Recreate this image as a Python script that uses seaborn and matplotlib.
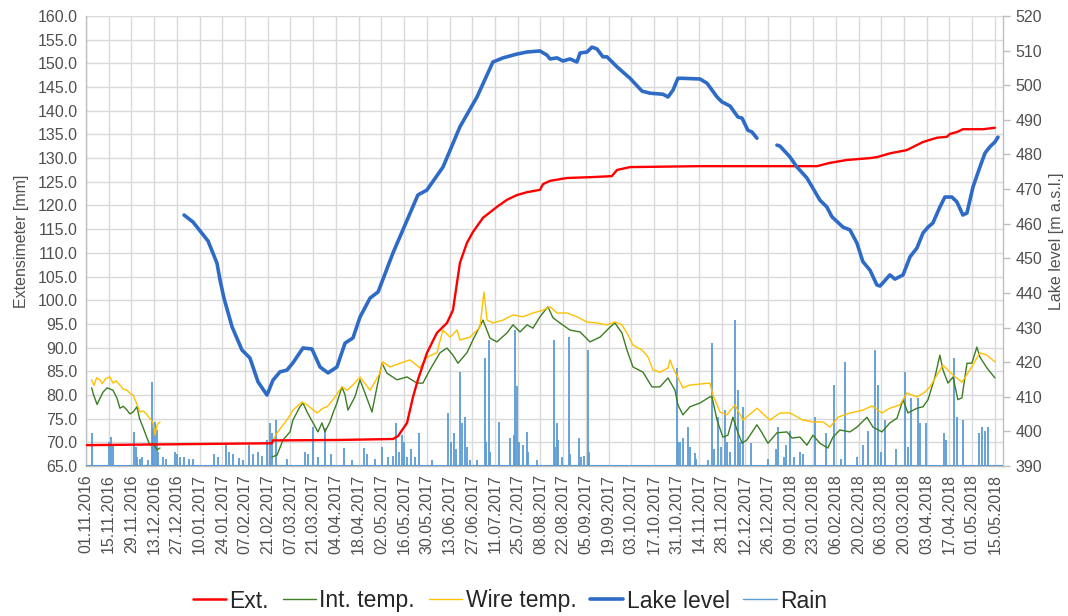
import numpy as np
import pandas as pd
import matplotlib
matplotlib.use("Agg")
import matplotlib.pyplot as plt
import matplotlib.dates as mdates
import matplotlib.ticker as mticker
from matplotlib.lines import Line2D
import seaborn as sns

# ---------------- data (days since 01.11.2016) ----------------
START = "2016-11-01"

ext_days = [0, 114.6, 115.2, 156.5, 189.1, 192.2, 197.8, 201.5, 204.5, 210.1, 216.2, 222.4,
            226.1, 227.3, 230.4, 234.7, 238.4, 244.6, 253.2, 259.4, 265.5, 271.7, 279.7,
            281.6, 285.9, 296.3, 312.4, 324.0, 327.2, 335.2, 378.3, 450.4, 458.4, 468.8,
            483.0, 487.3, 495.3, 505.8, 515.7, 524.3, 530.5, 532.3, 536.6, 540.3, 552.6, 560.0]
ext_vals = [69.4, 69.8, 70.4, 70.5, 70.7, 71.3, 74.1, 79.6, 83.2, 88.9, 93.1, 95.2,
            97.9, 100.7, 107.9, 112.1, 114.4, 117.4, 119.7, 121.2, 122.2, 122.8, 123.3,
            124.5, 125.2, 125.8, 126.0, 126.2, 127.5, 128.1, 128.3, 128.3, 129.0, 129.6,
            130.0, 130.2, 131.0, 131.7, 133.4, 134.3, 134.5, 135.1, 135.5, 136.1, 136.1, 136.4]

int_days_1 = [3.5, 4.5, 6.8, 8.5, 10.5, 13.0, 16.6, 19.0, 20.9, 23.0, 25.3, 27.0, 29.0,
              31.4, 33.0, 35.1, 37.6, 39.4, 41.3, 43.8, 45.6]
int_vals_1 = [81.5, 80.2, 78.0, 79.2, 80.6, 81.5, 81.0, 79.4, 77.2, 77.6, 76.8, 76.0, 76.4,
              77.5, 75.0, 73.2, 70.9, 69.4, 69.8, 68.4, 68.8]

int_days_2 = [114.6, 117.7, 121.4, 125.7, 127.5, 131.8, 133.7, 136.2, 139.9, 142.9, 145.4,
              147.2, 150.3, 152.2, 154.6, 157.7, 159.6, 161.4, 165.7, 168.8, 171.9, 176.2,
              179.3, 182.4, 185.4, 191.6, 197.8, 203.9, 207.6, 211.9, 218.1, 222.4, 226.1,
              229.2, 234.7, 238.4, 244.6, 248.9, 253.2, 259.4, 263.1, 267.4, 271.7, 275.4,
              279.7, 284.6, 287.7, 292.0, 298.2, 304.4, 310.5, 316.7, 322.8, 325.9, 330.2,
              333.3, 337.0, 343.2, 348.7, 353.6, 358.6, 362.9, 364.7, 367.8, 372.1, 378.3,
              384.4, 385.7, 388.8, 392.4, 395.5, 398.6, 401.1, 404.2, 407.2, 413.4, 416.5,
              420.2, 425.7, 431.9, 435.0, 439.9, 444.2, 447.9, 452.2, 457.1, 460.2, 464.5,
              470.7, 475.0, 481.2, 484.9, 490.4, 495.3, 499.7, 503.4, 506.4, 512.0, 515.7,
              518.8, 523.1, 526.1, 528.0, 531.1, 534.2, 537.2, 539.7, 542.8, 545.8, 548.9,
              550.8, 555.1, 560.0]
int_vals_2 = [66.9, 67.3, 70.5, 72.2, 74.7, 77.5, 78.3, 76.4, 74.1, 72.2, 74.1,
              72.2, 74.3, 76.2, 78.3, 81.7, 80.0, 76.8, 79.6, 83.2, 80.4, 76.4,
              81.7, 86.7, 84.6, 83.2, 83.8, 82.5, 82.5, 85.3, 88.9, 89.9, 88.4,
              86.7, 88.9, 91.6, 95.8, 92.0, 91.2, 93.1, 94.8, 93.3, 94.8, 94.1,
              96.5, 98.6, 96.3, 95.2, 93.7, 93.3, 91.2, 92.2, 94.3, 95.2, 93.1,
              89.5, 85.9, 84.8, 81.7, 81.7, 83.6, 81.0, 77.9, 75.8, 77.5, 78.3,
              79.6, 79.6, 74.7, 71.1, 71.5, 75.3, 72.6, 69.8, 70.5, 73.7, 72.0,
              69.8, 72.0, 72.2, 70.9, 71.1, 69.4, 71.5, 69.8, 68.8, 71.1, 72.6,
              72.2, 73.2, 75.3, 73.2, 72.2, 74.1, 75.1, 79.0, 76.2, 77.2, 77.5,
              79.0, 83.8, 88.4, 85.3, 82.5, 83.8, 79.0, 79.4, 86.7, 86.7, 90.1,
              88.0, 85.7, 83.6]

wire_days_1 = [3.5, 5.0, 6.5, 8.6, 10.0, 12.0, 14.8, 16.6, 18.5, 20.9, 23.0, 25.3, 27.5,
               29.0, 31.4, 33.3, 35.5, 37.6, 39.5, 41.3, 42.5, 43.8, 45.6]
wire_vals_1 = [83.2, 82.0, 83.6, 83.2, 82.4, 83.4, 83.8, 82.5, 83.0, 82.1, 81.2, 81.0, 80.2,
               80.0, 78.0, 76.4, 76.6, 75.8, 75.0, 74.1, 71.5, 73.7, 74.3]

wire_days_2 = [114.6, 117.7, 123.8, 127.5, 133.1, 136.2, 142.3, 146.0, 148.5, 152.2, 157.7,
               160.8, 164.5, 168.8, 175.0, 181.1, 183.0, 187.3, 193.5, 199.6, 205.8, 210.1,
               216.2, 219.9, 224.3, 228.6, 230.4, 236.6, 242.7, 245.2, 247.1, 250.7, 256.9,
               263.1, 269.2, 275.4, 281.6, 285.9, 290.2, 296.3, 302.5, 308.7, 314.8, 321.0,
               325.9, 330.2, 333.9, 337.0, 342.6, 346.3, 349.3, 353.6, 358.6, 359.8, 361.7,
               367.8, 372.1, 378.3, 384.4, 386.3, 390.6, 394.9, 399.8, 404.8, 413.4, 421.4,
               427.6, 433.7, 441.7, 447.9, 454.1, 458.4, 463.3, 470.7, 478.7, 484.3, 490.4,
               495.3, 501.5, 505.8, 512.0, 516.9, 520.0, 528.0, 534.2, 539.7, 544.6, 550.8,
               555.1, 560.0]
wire_vals_2 = [70.1, 72.0, 74.7, 76.8, 78.5, 77.9, 76.2, 77.2, 77.5, 79.0, 81.7,
               81.0, 82.1, 83.8, 81.0, 84.6, 87.0, 85.9, 86.7, 87.4, 85.7, 88.0,
               88.9, 93.7, 92.2, 93.7, 91.6, 92.2, 94.3, 101.7, 95.8, 95.2, 95.8,
               96.9, 96.5, 97.3, 97.9, 98.6, 97.3, 97.3, 96.5, 95.4, 95.2, 94.8,
               95.4, 94.8, 92.7, 90.5, 89.5, 88.0, 85.3, 84.8, 85.7, 87.4, 85.7,
               81.5, 82.1, 82.3, 82.5, 80.0, 76.4, 75.8, 77.9, 74.7, 77.2, 74.7,
               76.2, 76.2, 74.7, 74.3, 74.3, 73.2, 75.3, 76.2, 76.8, 77.7, 76.2,
               77.2, 77.9, 80.4, 79.6, 80.6, 81.7, 86.3, 84.2, 82.7, 85.3, 88.9,
               88.4, 87.0]

lake_days_1 = [60.4, 65.9, 75.2, 80.7, 82.6, 85.0, 90.0, 96.1, 101.0, 106.0, 111.5, 115.2,
               119.5, 123.8, 127.5, 133.7, 139.2, 144.2, 149.1, 154.6, 159.6, 164.5, 168.8,
               175.0, 180.0, 189.1, 204.5, 210.0, 220.0, 230.4, 240.9, 250.7, 256.9, 265.5,
               271.7, 279.7, 284.0, 285.9, 290.2, 293.9, 298.2, 302.5, 304.4, 308.7, 311.7,
               314.8, 318.5, 321.0, 327.2, 335.2, 342.6, 347.5, 355.5, 358.6, 361.7, 364.7,
               367.8, 378.3, 382.6, 388.8, 391.8, 396.8, 401.7, 404.2, 407.8, 410.3, 413.4]
lake_vals_1 = [462.5, 460.5, 455.0, 448.6, 443.7, 438.5, 430.2, 423.5, 421.2, 414.3, 410.5, 414.8,
               417.2, 417.7, 419.8, 424.1, 423.8, 418.6, 416.9, 418.6, 425.5, 427.0, 433.0,
               438.5, 440.3, 451.5, 468.3, 469.7, 476.4, 488.0, 496.6, 506.7, 507.9, 509.0,
               509.6, 509.9, 508.7, 507.6, 507.9, 507.0, 507.6, 506.7, 509.3, 509.6, 511.0,
               510.5, 508.2, 508.2, 505.3, 502.0, 498.3, 497.7, 497.4, 496.6, 498.6, 502.0,
               502.0, 501.8, 500.6, 496.6, 495.2, 494.0, 490.8, 490.5, 487.0, 486.5, 484.7]

lake_days_2 = [425.7, 427.6, 433.7, 438.0, 444.2, 452.2, 456.5, 459.6, 466.4, 470.7, 475.0,
               478.7, 483.0, 487.3, 489.2, 491.0, 495.3, 498.4, 503.4, 507.7, 512.0, 515.7,
               518.8, 521.8, 526.1, 529.2, 533.5, 536.6, 540.3, 542.8, 546.5, 550.8, 553.9,
               556.9, 560.0, 561.9]
lake_vals_2 = [482.7, 482.4, 479.3, 476.4, 473.2, 466.8, 464.8, 462.0, 459.0, 458.2, 454.4,
               449.0, 446.6, 442.3, 442.0, 442.9, 445.2, 444.0, 445.2, 450.4, 453.0, 457.3,
               459.0, 460.2, 464.8, 467.7, 467.7, 466.3, 462.5, 463.1, 470.6, 476.4, 480.4,
               482.2, 483.6, 485.0]

rain_days = [3.7, 14.2, 15.4, 16.6, 29.6, 30.8, 31.4, 33.3, 34.5, 38.2, 40.7, 41.3, 42.5,
             43.8, 44.4, 47.5, 49.3, 54.8, 56.0, 57.9, 60.4, 63.4, 65.9, 78.8, 81.3, 86.2,
             88.1, 90.6, 94.3, 96.7, 100.4, 103.0, 106.0, 108.4, 111.5, 113.4, 114.6, 117.1,
             123.8, 134.9, 136.8, 139.9, 143.0, 147.2, 150.9, 159.0, 164.0, 171.3, 173.2,
             178.0, 182.4, 186.0, 189.0, 191.0, 192.8, 194.7, 196.0, 198.0, 200.2, 203.0,
             205.2, 213.0, 223.0, 225.0, 226.5, 228.0, 230.4, 231.5, 233.5, 234.7, 236.6,
             240.9, 245.8, 246.5, 248.3, 249.0, 254.4, 261.2, 263.7, 264.3, 265.5, 266.5,
             269.2, 271.7, 272.5, 277.9, 288.3, 289.0, 290.2, 291.0, 293.0, 297.6, 298.5,
             303.7, 305.0, 307.0, 309.3, 310.0, 364.1, 365.0, 366.0, 368.0, 370.9, 372.0,
             375.0, 376.0, 383.0, 385.7, 387.0, 389.4, 391.0, 393.7, 395.0, 397.0, 399.8,
             401.7, 403.0, 404.8, 409.7, 420.0, 425.0, 426.3, 430.0, 431.5, 433.7, 436.0,
             440.0, 442.0, 449.1, 455.9, 460.8, 465.0, 467.6, 475.0, 478.5, 481.8, 486.1,
             487.9, 490.0, 492.3, 499.0, 504.6, 506.5, 508.3, 512.6, 513.8, 517.5, 528.6,
             530.0, 534.8, 536.6, 540.3, 550.2, 552.0, 553.9, 555.7]
rain_vals = [72.0, 70.1, 71.1, 69.5, 72.2, 69.0, 67.0, 66.5, 66.8, 66.2, 82.7, 73.0, 74.3,
             72.6, 68.0, 67.0, 66.5, 68.0, 67.5, 67.0, 66.8, 66.5, 66.4, 67.6, 67.0, 69.4,
             68.0, 67.5, 66.6, 66.3, 69.4, 67.5, 68.0, 67.2, 70.5, 74.1, 72.0, 74.7,
             66.4, 68.0, 67.5, 73.2, 67.0, 73.0, 67.5, 68.8, 66.2, 68.8, 67.6,
             66.5, 69.0, 66.8, 67.2, 74.1, 68.0, 71.5, 70.0, 67.0, 68.5, 67.0,
             72.0, 66.3, 76.2, 70.0, 72.0, 68.5, 84.8, 74.0, 75.3, 69.0, 66.3,
             66.3, 87.8, 70.0, 91.6, 68.0, 74.3, 71.0, 71.5, 93.7, 81.9, 70.0,
             69.5, 72.2, 68.0, 66.3, 91.6, 69.0, 74.1, 70.5, 67.0, 92.2, 67.5,
             70.9, 67.0, 67.2, 89.5, 68.0, 85.7, 70.0, 70.0, 71.0, 73.2, 69.0,
             67.8, 66.5, 66.3, 91.0, 68.5, 75.3, 69.0, 76.8, 70.0, 68.0, 95.8,
             81.0, 70.0, 77.5, 69.8, 66.5, 68.5, 73.2, 66.8, 69.5, 72.4, 66.8,
             68.0, 67.5, 75.3, 72.0, 82.1, 66.5, 87.0, 66.8, 69.5, 72.4, 89.5,
             82.1, 68.0, 74.7, 68.5, 84.8, 69.0, 79.4, 79.4, 74.1, 74.1, 72.0,
             70.5, 87.8, 75.3, 74.7, 72.0, 73.2, 72.4, 73.2]

# ---------------- styling ----------------
C_EXT = "#FF0000"
C_INT = "#3B7D23"
C_WIRE = "#FFC000"
C_LAKE = "#2E6BC6"
C_RAIN = "#5B9BD5"
C_GRID = "#D9D9D9"
C_TXT = "#505050"

sns.set_style("white")
plt.rcParams["font.family"] = ["Liberation Sans", "DejaVu Sans"]

start = pd.Timestamp(START)


def to_dates(days):
    return start + pd.to_timedelta(np.asarray(days, dtype=float), unit="D")


fig = plt.figure(figsize=(10.68, 6.16), dpi=100)
ax = fig.add_axes([86 / 1068, 1 - 466 / 616, (1003 - 86) / 1068, (466 - 16) / 616])
ax2 = ax.twinx()

# rain (left axis)
ax.vlines(to_dates(rain_days), 65, rain_vals, color=C_RAIN, linewidth=1.3, zorder=3)
ax.axhline(65, color=C_RAIN, linewidth=1.5, zorder=3)

# temperatures
for d, v in [(int_days_1, int_vals_1), (int_days_2, int_vals_2)]:
    sns.lineplot(x=to_dates(d), y=v, ax=ax, color=C_INT, linewidth=1.0,
                 estimator=None, sort=False, zorder=4)
for d, v in [(wire_days_1, wire_vals_1), (wire_days_2, wire_vals_2)]:
    sns.lineplot(x=to_dates(d), y=v, ax=ax, color=C_WIRE, linewidth=1.0,
                 estimator=None, sort=False, zorder=4)
# extensimeter
sns.lineplot(x=to_dates(ext_days), y=ext_vals, ax=ax, color=C_EXT, linewidth=1.7,
             estimator=None, sort=False, zorder=5)
# lake level (right axis)
for d, v in [(lake_days_1, lake_vals_1), (lake_days_2, lake_vals_2)]:
    sns.lineplot(x=to_dates(d), y=v, ax=ax2, color=C_LAKE, linewidth=2.6,
                 estimator=None, sort=False, zorder=6)

# axes limits & ticks
ax.set_xlim(start, start + pd.Timedelta(days=565))
ax.set_ylim(65, 160)
ax2.set_ylim(390, 520)

xticks = [start + pd.Timedelta(days=14 * k) for k in range(41)]
ax.set_xticks(xticks)
ax.xaxis.set_major_formatter(mdates.DateFormatter("%d.%m.%Y"))
plt.setp(ax.get_xticklabels(), rotation=90, ha="center", va="top")

ax.set_yticks(np.arange(65, 160.1, 5))
ax.yaxis.set_major_formatter(mticker.FormatStrFormatter("%.1f"))
ax2.set_yticks(np.arange(390, 520.1, 10))
ax2.yaxis.set_major_formatter(mticker.FormatStrFormatter("%d"))

ax.grid(True, color=C_GRID, linewidth=1.0)
ax.set_axisbelow(True)
ax2.grid(False)

for a in (ax, ax2):
    a.spines["top"].set_visible(False)
    for s in ("left", "right", "bottom"):
        a.spines[s].set_color("#BFBFBF")
        a.spines[s].set_linewidth(1.0)
ax.spines["right"].set_visible(False)
ax2.spines["left"].set_visible(False)
ax2.spines["bottom"].set_visible(False)

ax.tick_params(axis="x", labelsize=11.5, colors=C_TXT, length=0, pad=6)
ax.tick_params(axis="y", labelsize=11.5, colors=C_TXT, length=0, pad=6)
ax2.tick_params(axis="y", labelsize=11.5, colors=C_TXT, length=5, width=1.0,
                direction="out", color="#BFBFBF", pad=4)

ax.set_xlabel("")
ax.set_ylabel("Extensimeter [mm]", fontsize=11.5, color=C_TXT, labelpad=6)
ax2.set_ylabel("Lake level [m a.s.l.]", fontsize=11.5, color=C_TXT, labelpad=5)

handles = [
    Line2D([], [], color=C_EXT, linewidth=1.8),
    Line2D([], [], color=C_INT, linewidth=1.0),
    Line2D([], [], color=C_WIRE, linewidth=1.0),
    Line2D([], [], color=C_LAKE, linewidth=2.6),
    Line2D([], [], color=C_RAIN, linewidth=1.0),
]
labels = ["Ext.", "Int. temp.", "Wire temp.", "Lake level", "Rain"]
fig.legend(handles, labels, loc="center", bbox_to_anchor=(510 / 1068, 1 - 601 / 616),
           ncol=5, frameon=False, fontsize=16.5, handlelength=1.45,
           handletextpad=0.15, columnspacing=0.6)

fig.savefig("out.png", dpi=100)
